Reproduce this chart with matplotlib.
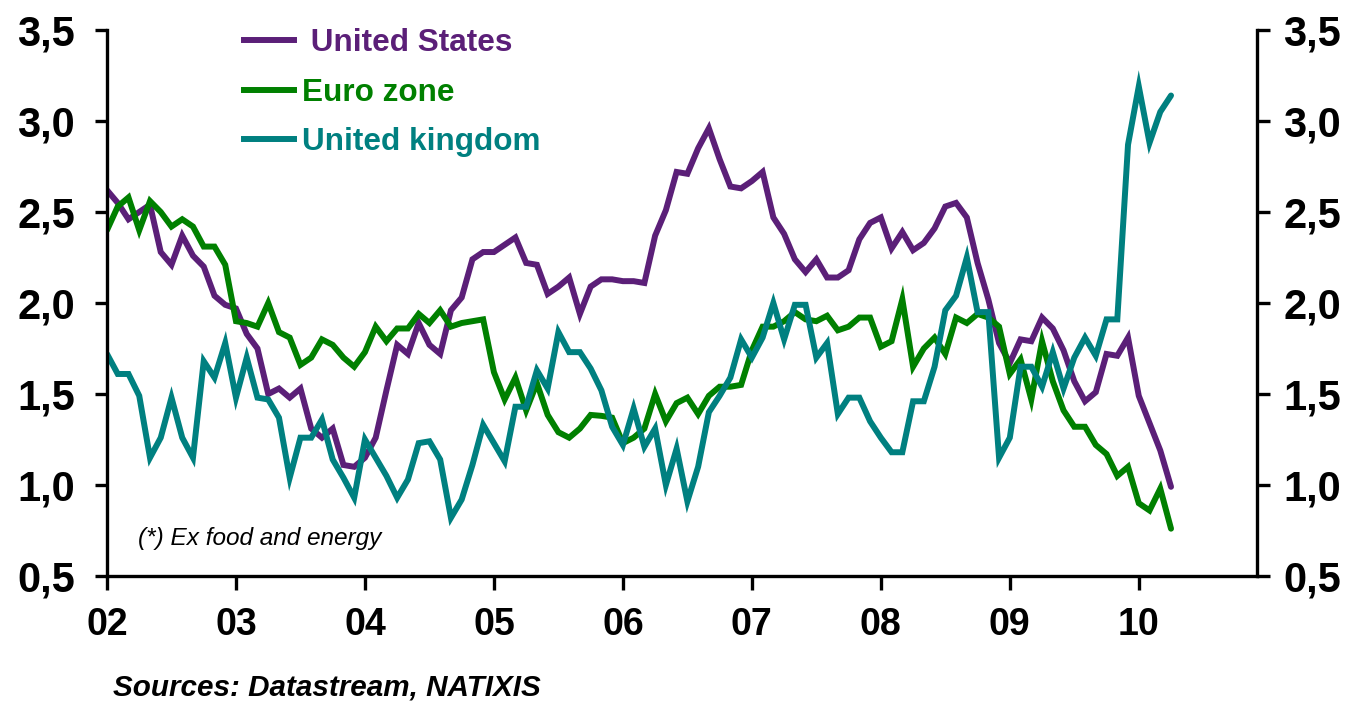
import matplotlib
matplotlib.use("Agg")
import matplotlib.pyplot as plt
from matplotlib.lines import Line2D
import numpy as np

# Monthly data, Jan 2002 .. Apr 2010 (core inflation, % y/y)
us = [2.62, 2.55, 2.46, 2.50, 2.54, 2.28, 2.21, 2.37, 2.26, 2.20, 2.04, 1.99,
      1.97, 1.83, 1.75, 1.50, 1.53, 1.48, 1.53, 1.31, 1.26, 1.31, 1.11, 1.10,
      1.15, 1.26, 1.52, 1.77, 1.72, 1.89, 1.77, 1.72, 1.96, 2.03, 2.24, 2.28,
      2.28, 2.32, 2.36, 2.22, 2.21, 2.05, 2.09, 2.14, 1.94, 2.09, 2.13, 2.13,
      2.12, 2.12, 2.11, 2.37, 2.51, 2.72, 2.71, 2.85, 2.96, 2.79, 2.64, 2.63,
      2.67, 2.72, 2.47, 2.38, 2.24, 2.17, 2.24, 2.14, 2.14, 2.18, 2.35, 2.44,
      2.47, 2.30, 2.39, 2.29, 2.33, 2.41, 2.53, 2.55, 2.47, 2.22, 2.02, 1.78,
      1.67, 1.80, 1.79, 1.92, 1.86, 1.74, 1.57, 1.46, 1.51, 1.72, 1.71, 1.81,
      1.49, 1.34, 1.19, 0.99]
euro = [2.40, 2.53, 2.58, 2.40, 2.56, 2.50, 2.42, 2.46, 2.42, 2.31, 2.31, 2.21,
        1.90, 1.89, 1.87, 2.00, 1.84, 1.81, 1.66, 1.70, 1.80, 1.77, 1.70, 1.65,
        1.73, 1.87, 1.79, 1.86, 1.86, 1.94, 1.89, 1.96, 1.87, 1.89, 1.90, 1.91,
        1.62, 1.47, 1.59, 1.41, 1.56, 1.385, 1.29, 1.26, 1.31, 1.385, 1.38, 1.37,
        1.23, 1.26, 1.31, 1.50, 1.35, 1.45, 1.48, 1.39, 1.49, 1.54, 1.54, 1.55,
        1.74, 1.87, 1.87, 1.90, 1.95, 1.91, 1.90, 1.93, 1.85, 1.87, 1.92, 1.92,
        1.76, 1.79, 2.02, 1.65, 1.75, 1.81, 1.72, 1.92, 1.89, 1.94, 1.92, 1.87,
        1.61, 1.69, 1.47, 1.79, 1.57, 1.41, 1.32, 1.32, 1.22, 1.17, 1.05, 1.10,
        0.90, 0.86, 0.98, 0.76]
uk = [1.72, 1.61, 1.61, 1.49, 1.15, 1.26, 1.48, 1.26, 1.15, 1.68, 1.59, 1.78,
      1.48, 1.70, 1.48, 1.47, 1.37, 1.04, 1.26, 1.26, 1.36, 1.14, 1.04, 0.93,
      1.25, 1.15, 1.05, 0.93, 1.03, 1.23, 1.24, 1.14, 0.82, 0.92, 1.11, 1.33,
      1.23, 1.13, 1.43, 1.43, 1.63, 1.53, 1.84, 1.73, 1.73, 1.64, 1.52, 1.32,
      1.22, 1.42, 1.21, 1.31, 1.00, 1.20, 0.91, 1.10, 1.40, 1.49, 1.59, 1.80,
      1.70, 1.81, 2.00, 1.80, 1.99, 1.99, 1.70, 1.78, 1.39, 1.48, 1.48, 1.35,
      1.26, 1.18, 1.18, 1.46, 1.46, 1.65, 1.96, 2.04, 2.25, 1.95, 1.95, 1.15,
      1.26, 1.65, 1.65, 1.54, 1.73, 1.53, 1.70, 1.81, 1.71, 1.91, 1.91, 2.87,
      3.19, 2.88, 3.05, 3.14]

series_labels = [" United States", "Euro zone", "United kingdom"]
series_colors = ["#5B1F78", "#008000", "#008080"]

x_tick_labels = ["02", "03", "04", "05", "06", "07", "08", "09", "10"]
y_ticks = [0.5, 1.0, 1.5, 2.0, 2.5, 3.0, 3.5]
y_tick_labels = ["0,5", "1,0", "1,5", "2,0", "2,5", "3,0", "3,5"]

note_text = "(*) Ex food and energy"
source_text = "Sources: Datastream, NATIXIS"

tick_family = ["Liberation Sans", "DejaVu Sans"]
text_family = ["Liberation Sans", "DejaVu Sans"]

LW = 4.3

fig = plt.figure(figsize=(13.59, 7.04), dpi=100)
ax = fig.add_axes([107 / 1359, 1 - 576 / 704, 1150 / 1359, 546 / 704])

months = np.arange(len(us))
for vals, lab, col in zip([us, euro, uk], series_labels, series_colors):
    ax.plot(months, vals, color=col, lw=LW, label=lab,
            solid_joinstyle="miter", solid_capstyle="round")

ax.set_xlim(0, 107)
ax.set_ylim(0.5, 3.5)
ax.set_xticks(np.arange(len(x_tick_labels)) * 12)
ax.set_xticklabels(x_tick_labels)
ax.set_yticks(y_ticks)
ax.set_yticklabels(y_tick_labels)

ax.spines["top"].set_visible(False)
ax.spines["right"].set_visible(False)
for s in ["left", "bottom"]:
    ax.spines[s].set_linewidth(2.4)

ax.tick_params(axis="x", direction="out", length=10, width=2.4, pad=12)
ax.tick_params(axis="y", direction="out", length=9, width=2.4, pad=14)
for lbl in ax.get_xticklabels():
    lbl.set_fontfamily(tick_family)
    lbl.set_fontweight("bold")
    lbl.set_fontsize(27)
for lbl in ax.get_yticklabels():
    lbl.set_fontfamily(tick_family)
    lbl.set_fontweight("bold")
    lbl.set_fontsize(30)

ax2 = ax.twinx()
ax2.set_ylim(0.5, 3.5)
ax2.set_yticks(y_ticks)
ax2.set_yticklabels(y_tick_labels)
for s in ["top", "left", "bottom"]:
    ax2.spines[s].set_visible(False)
ax2.spines["right"].set_linewidth(2.4)
ax2.tick_params(axis="y", direction="out", length=9, width=2.4, pad=10)
for lbl in ax2.get_yticklabels():
    lbl.set_fontfamily(tick_family)
    lbl.set_fontweight("bold")
    lbl.set_fontsize(30)

handles = [Line2D([], [], color=c, lw=LW) for c in series_colors]
leg = ax.legend(handles, series_labels, loc="upper left",
                bbox_to_anchor=(244 / 1359, 1 - 28 / 704),
                bbox_transform=fig.transFigure, frameon=False,
                handlelength=1.58, handletextpad=0.26, labelspacing=0.62,
                borderaxespad=0, borderpad=0,
                prop={"family": text_family, "weight": "bold", "size": 22.7})
for t, c in zip(leg.get_texts(), series_colors):
    t.set_color(c)

ax.text(31 / 1150, 38 / 546, note_text, transform=ax.transAxes,
        fontsize=17.6, style="italic", family=text_family, va="center", ha="left")

fig.text(113 / 1359, 1 - 688 / 704, source_text, fontsize=21.3,
         style="italic", weight="bold", family=text_family, va="center", ha="left")

fig.savefig("out.png", dpi=100)
